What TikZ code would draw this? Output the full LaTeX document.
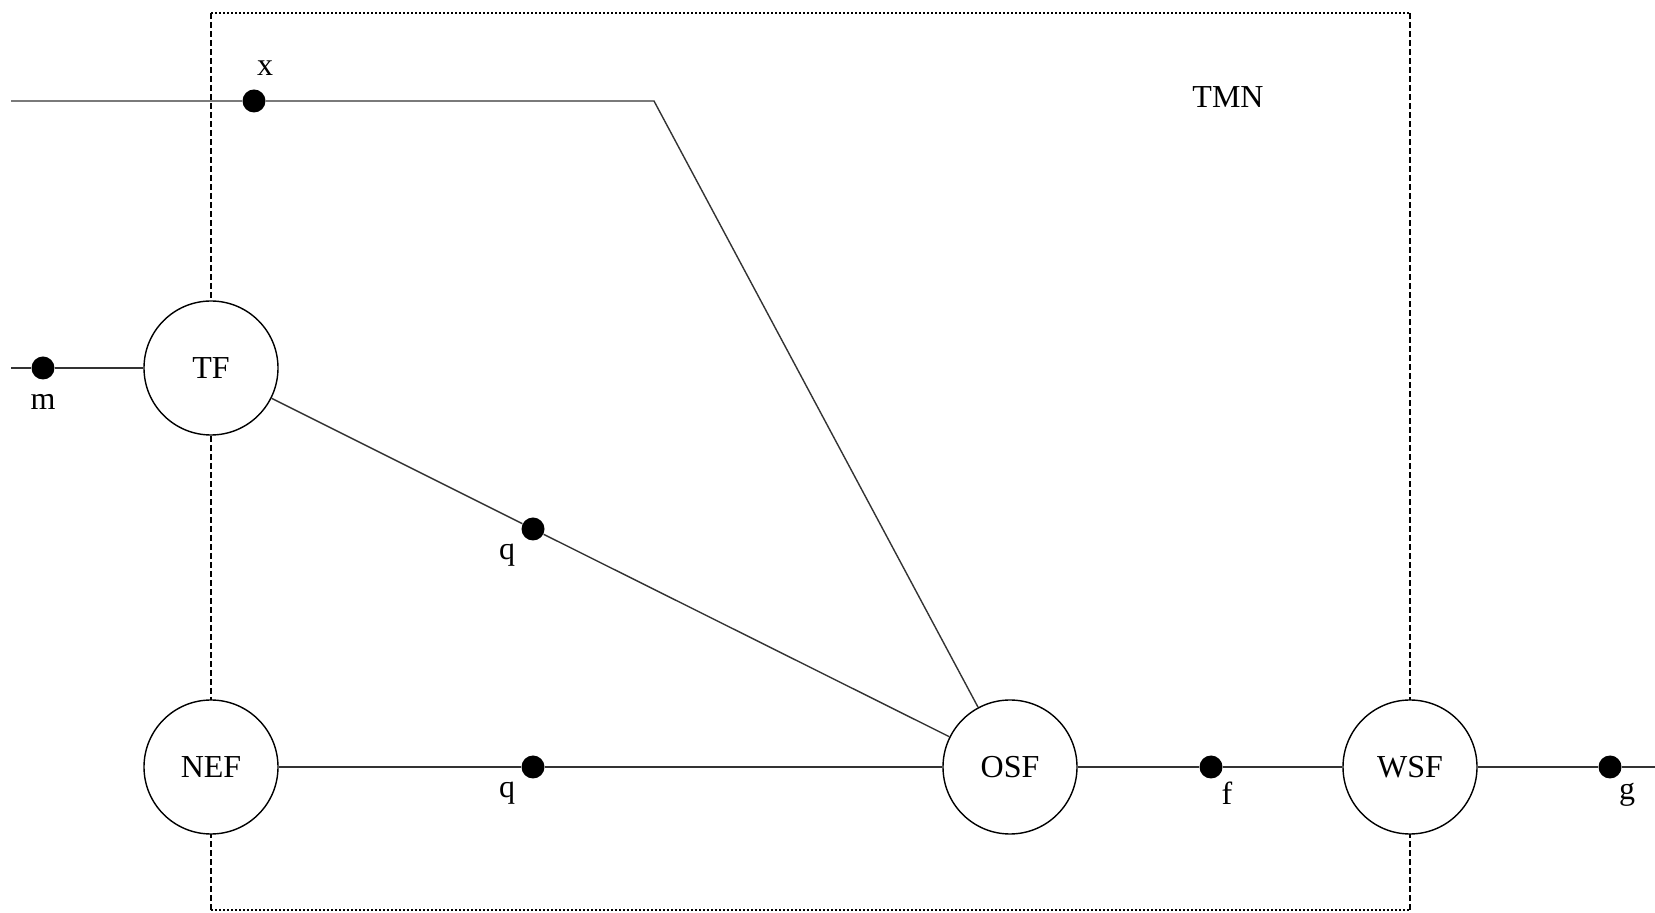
\documentclass[tikz,border=0pt]{standalone}
\usepackage{fontspec}
\setmainfont{Liberation Serif}
\usetikzlibrary{positioning,calc}

\begin{document}
\begin{tikzpicture}[
  x=0.5pt, y=-0.5pt,
  fn/.style={circle, draw, fill=white, line width=.7pt, minimum size=67pt, inner sep=0pt,
    font=\fontsize{16}{19}\selectfont},
  port/.style={circle, fill=black, minimum size=11.5pt, inner sep=0pt},
  link/.style={line width=.7pt, draw=black!80},
  lbl/.style={inner sep=0pt, font=\fontsize{16}{19}\selectfont},
  hedge/.style={line width=1.1pt, dash pattern=on 1pt off 1pt},
  vedge/.style={line width=.7pt, dash pattern=on 3pt off 1.5pt}
]
  \useasboundingbox (0,0) rectangle (1655,913);
  % TMN boundary
  \coordinate (tl) at (211,13);
  \coordinate (tr) at (1410,13);
  \coordinate (bl) at (211,910);
  \coordinate (br) at (1410,910);
  \draw[hedge] (tl) -- (tr);
  \draw[hedge] (bl) -- (br);
  \draw[vedge] (tl) -- (bl);
  \draw[vedge] (tr) -- (br);
  \node[lbl] (tmn) at (1228,97) {TMN};

  \node[fn] (tf) at (211,368) {TF};
  \node[fn] (nef) at (211,767) {NEF};
  \node[fn] (osf) at (1010,767) {OSF};
  \node[fn] (wsf) at (1410,767) {WSF};

  \node[port] (x) at (254,101) {};
  \node[port] (m) at (43,368) {};
  \node[port] (q1) at (533,529) {};
  \node[port] (q2) at (533,767) {};
  \node[port] (f) at (1211,767) {};
  \node[port] (g) at (1610,767) {};

  \coordinate (xin) at (11,101);
  \coordinate (bend) at (654,101);
  \coordinate (min) at (11,368);
  \coordinate (gout) at (1655,767);

  \draw[link] (xin) -- (x) -- (bend) -- (osf);
  \draw[link] (min) -- (m) -- (tf);
  \draw[link] (tf) -- (q1) -- (osf);
  \draw[link] (nef) -- (q2) -- (osf);
  \draw[link] (osf) -- (f) -- (wsf);
  \draw[link] (wsf) -- (g) -- (gout);

  \node[lbl] (xlab) at (265,68) {x};
  \node[lbl] (mlab) at (43,402) {m};
  \node[lbl] (q1lab) at (507,555) {q};
  \node[lbl] (q2lab) at (507,793) {q};
  \node[lbl] (flab) at (1227,793) {f};
  \node[lbl] (glab) at (1627,795) {g};
\end{tikzpicture}
\end{document}
